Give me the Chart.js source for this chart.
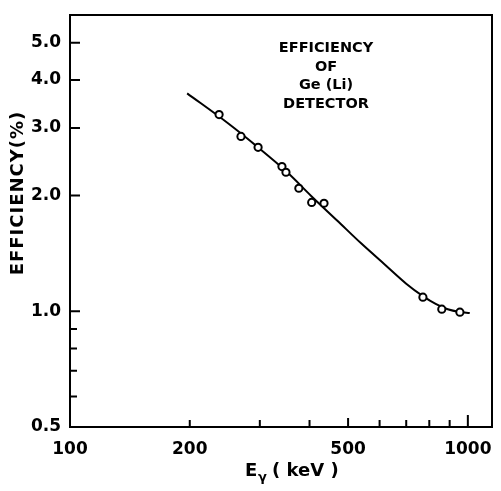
<!DOCTYPE html>
<html>
<head>
<meta charset="utf-8">
<script src="https://cdn.jsdelivr.net/npm/chart.js@4"></script>
<style>
  html, body { margin: 0; padding: 0; background: #fff; }
  #wrap { width: 501px; height: 491px; }
</style>
</head>
<body>
<div id="wrap"><canvas id="effChart" width="501" height="491"></canvas></div>
<script>
// measured points (keV, %)
const energyPoints = [237, 269, 297, 341, 349, 376, 405, 435, 771, 860, 955];
const efficiencyPoints = [3.25, 2.85, 2.67, 2.38, 2.30, 2.09, 1.92, 1.91, 1.088, 1.013, 0.995];

// fitted curve
const curveEnergy = [197, 250, 297, 350, 405, 470, 540, 620, 700, 771, 830, 890, 954, 1011];
const curveEfficiency = [3.69, 3.08, 2.67, 2.31, 1.99, 1.72, 1.50, 1.32, 1.18, 1.095, 1.045, 1.012, 0.996, 0.99];

const xTicks = [100, 200, 500, 1000];
const xTickLabels = ['100', '200', '500', '1000'];
const xMinorTicks = [200, 300, 400, 500, 600, 700, 800, 900];
const yTicks = [0.5, 1, 2, 3, 4, 5];
const yTickLabels = ['0.5', '1.0', '2.0', '3.0', '4.0', '5.0'];
const yMajorMarks = [1, 2, 3, 4, 5];
const yMinorTicks = [0.6, 0.7, 0.8, 0.9];

const titleLines = ['EFFICIENCY', 'OF', 'Ge (Li)', 'DETECTOR'];

const FONT = '"DejaVu Sans", sans-serif';

const framePlugin = {
  id: 'frame',
  afterDraw(chart) {
    const { ctx, chartArea: a, scales } = chart;
    const xs = scales.x, ys = scales.y;
    ctx.save();
    ctx.strokeStyle = '#000';
    ctx.lineWidth = 2;
    ctx.strokeRect(a.left, a.top, a.right - a.left, a.bottom - a.top);

    // inward tick marks
    ctx.beginPath();
    yMajorMarks.forEach(v => {
      const y = ys.getPixelForValue(v);
      ctx.moveTo(a.left, y); ctx.lineTo(a.left + 10, y);
    });
    yMinorTicks.forEach(v => {
      const y = ys.getPixelForValue(v);
      ctx.moveTo(a.left, y); ctx.lineTo(a.left + 7, y);
    });
    xMinorTicks.forEach(v => {
      const x = xs.getPixelForValue(v);
      ctx.moveTo(x, a.bottom); ctx.lineTo(x, a.bottom - (v === 500 ? 9 : 7));
    });
    const x1000 = xs.getPixelForValue(1000);
    ctx.moveTo(x1000, a.bottom); ctx.lineTo(x1000, a.bottom - 12);
    ctx.stroke();

    // annotation
    ctx.fillStyle = '#000';
    ctx.textAlign = 'center';
    ctx.textBaseline = 'middle';
    ctx.font = 'bold 14.5px ' + FONT;
    titleLines.forEach((t, i) => ctx.fillText(t, 326, 48 + i * 18.8));

    // y title
    ctx.save();
    ctx.translate(18, 193);
    ctx.rotate(-Math.PI / 2);
    ctx.font = 'bold 18px ' + FONT;
    ctx.letterSpacing = '1px';
    ctx.fillText('EFFICIENCY(%)', 0, 0);
    ctx.restore();

    // x title  E(gamma) ( keV )
    ctx.textAlign = 'left';
    ctx.font = 'bold 18px ' + FONT;
    ctx.fillText('E', 245, 471);
    ctx.font = 'bold 13px ' + FONT;
    ctx.fillText('γ', 258, 478);
    ctx.font = 'bold 18px ' + FONT;
    ctx.fillText('( keV )', 272, 471);
    ctx.restore();
  }
};

new Chart(document.getElementById('effChart'), {
  data: {
    datasets: [
      {
        type: 'scatter',
        data: energyPoints.map((x, i) => ({ x, y: efficiencyPoints[i] })),
        pointStyle: 'circle',
        pointRadius: 3.6,
        pointBorderWidth: 2,
        pointBorderColor: '#000',
        pointBackgroundColor: '#fff',
        order: 0
      },
      {
        type: 'line',
        data: curveEnergy.map((x, i) => ({ x, y: curveEfficiency[i] })),
        borderColor: '#000',
        borderWidth: 2,
        pointRadius: 0,
        fill: false,
        cubicInterpolationMode: 'monotone',
        order: 1
      }
    ]
  },
  options: {
    responsive: false,
    animation: false,
    layout: { padding: { top: 15, right: 9, left: 0, bottom: 0 } },
    plugins: { legend: { display: false }, tooltip: { enabled: false } },
    scales: {
      x: {
        type: 'logarithmic',
        min: 100,
        max: 1150,
        grid: { display: false },
        border: { display: false },
        afterBuildTicks: s => { s.ticks = xTicks.map(v => ({ value: v })); },
        afterFit: s => { s.height = 64; s.paddingLeft = 0; s.paddingRight = 0; },
        ticks: {
          color: '#000',
          font: { family: FONT, size: 17, weight: 'bold' },
          padding: 4,
          maxRotation: 0,
          autoSkip: false,
          callback: (v, i) => xTickLabels[i]
        }
      },
      y: {
        type: 'logarithmic',
        min: 0.5,
        max: 5.9,
        grid: { display: false },
        border: { display: false },
        afterBuildTicks: s => { s.ticks = yTicks.map(v => ({ value: v })); },
        afterFit: s => { s.width = 70; s.paddingTop = 0; s.paddingBottom = 0; },
        ticks: {
          color: '#000',
          font: { family: FONT, size: 17, weight: 'bold' },
          padding: 1,
          autoSkip: false,
          callback: (v, i) => yTickLabels[i]
        }
      }
    }
  },
  plugins: [framePlugin]
});
</script>
</body>
</html>
